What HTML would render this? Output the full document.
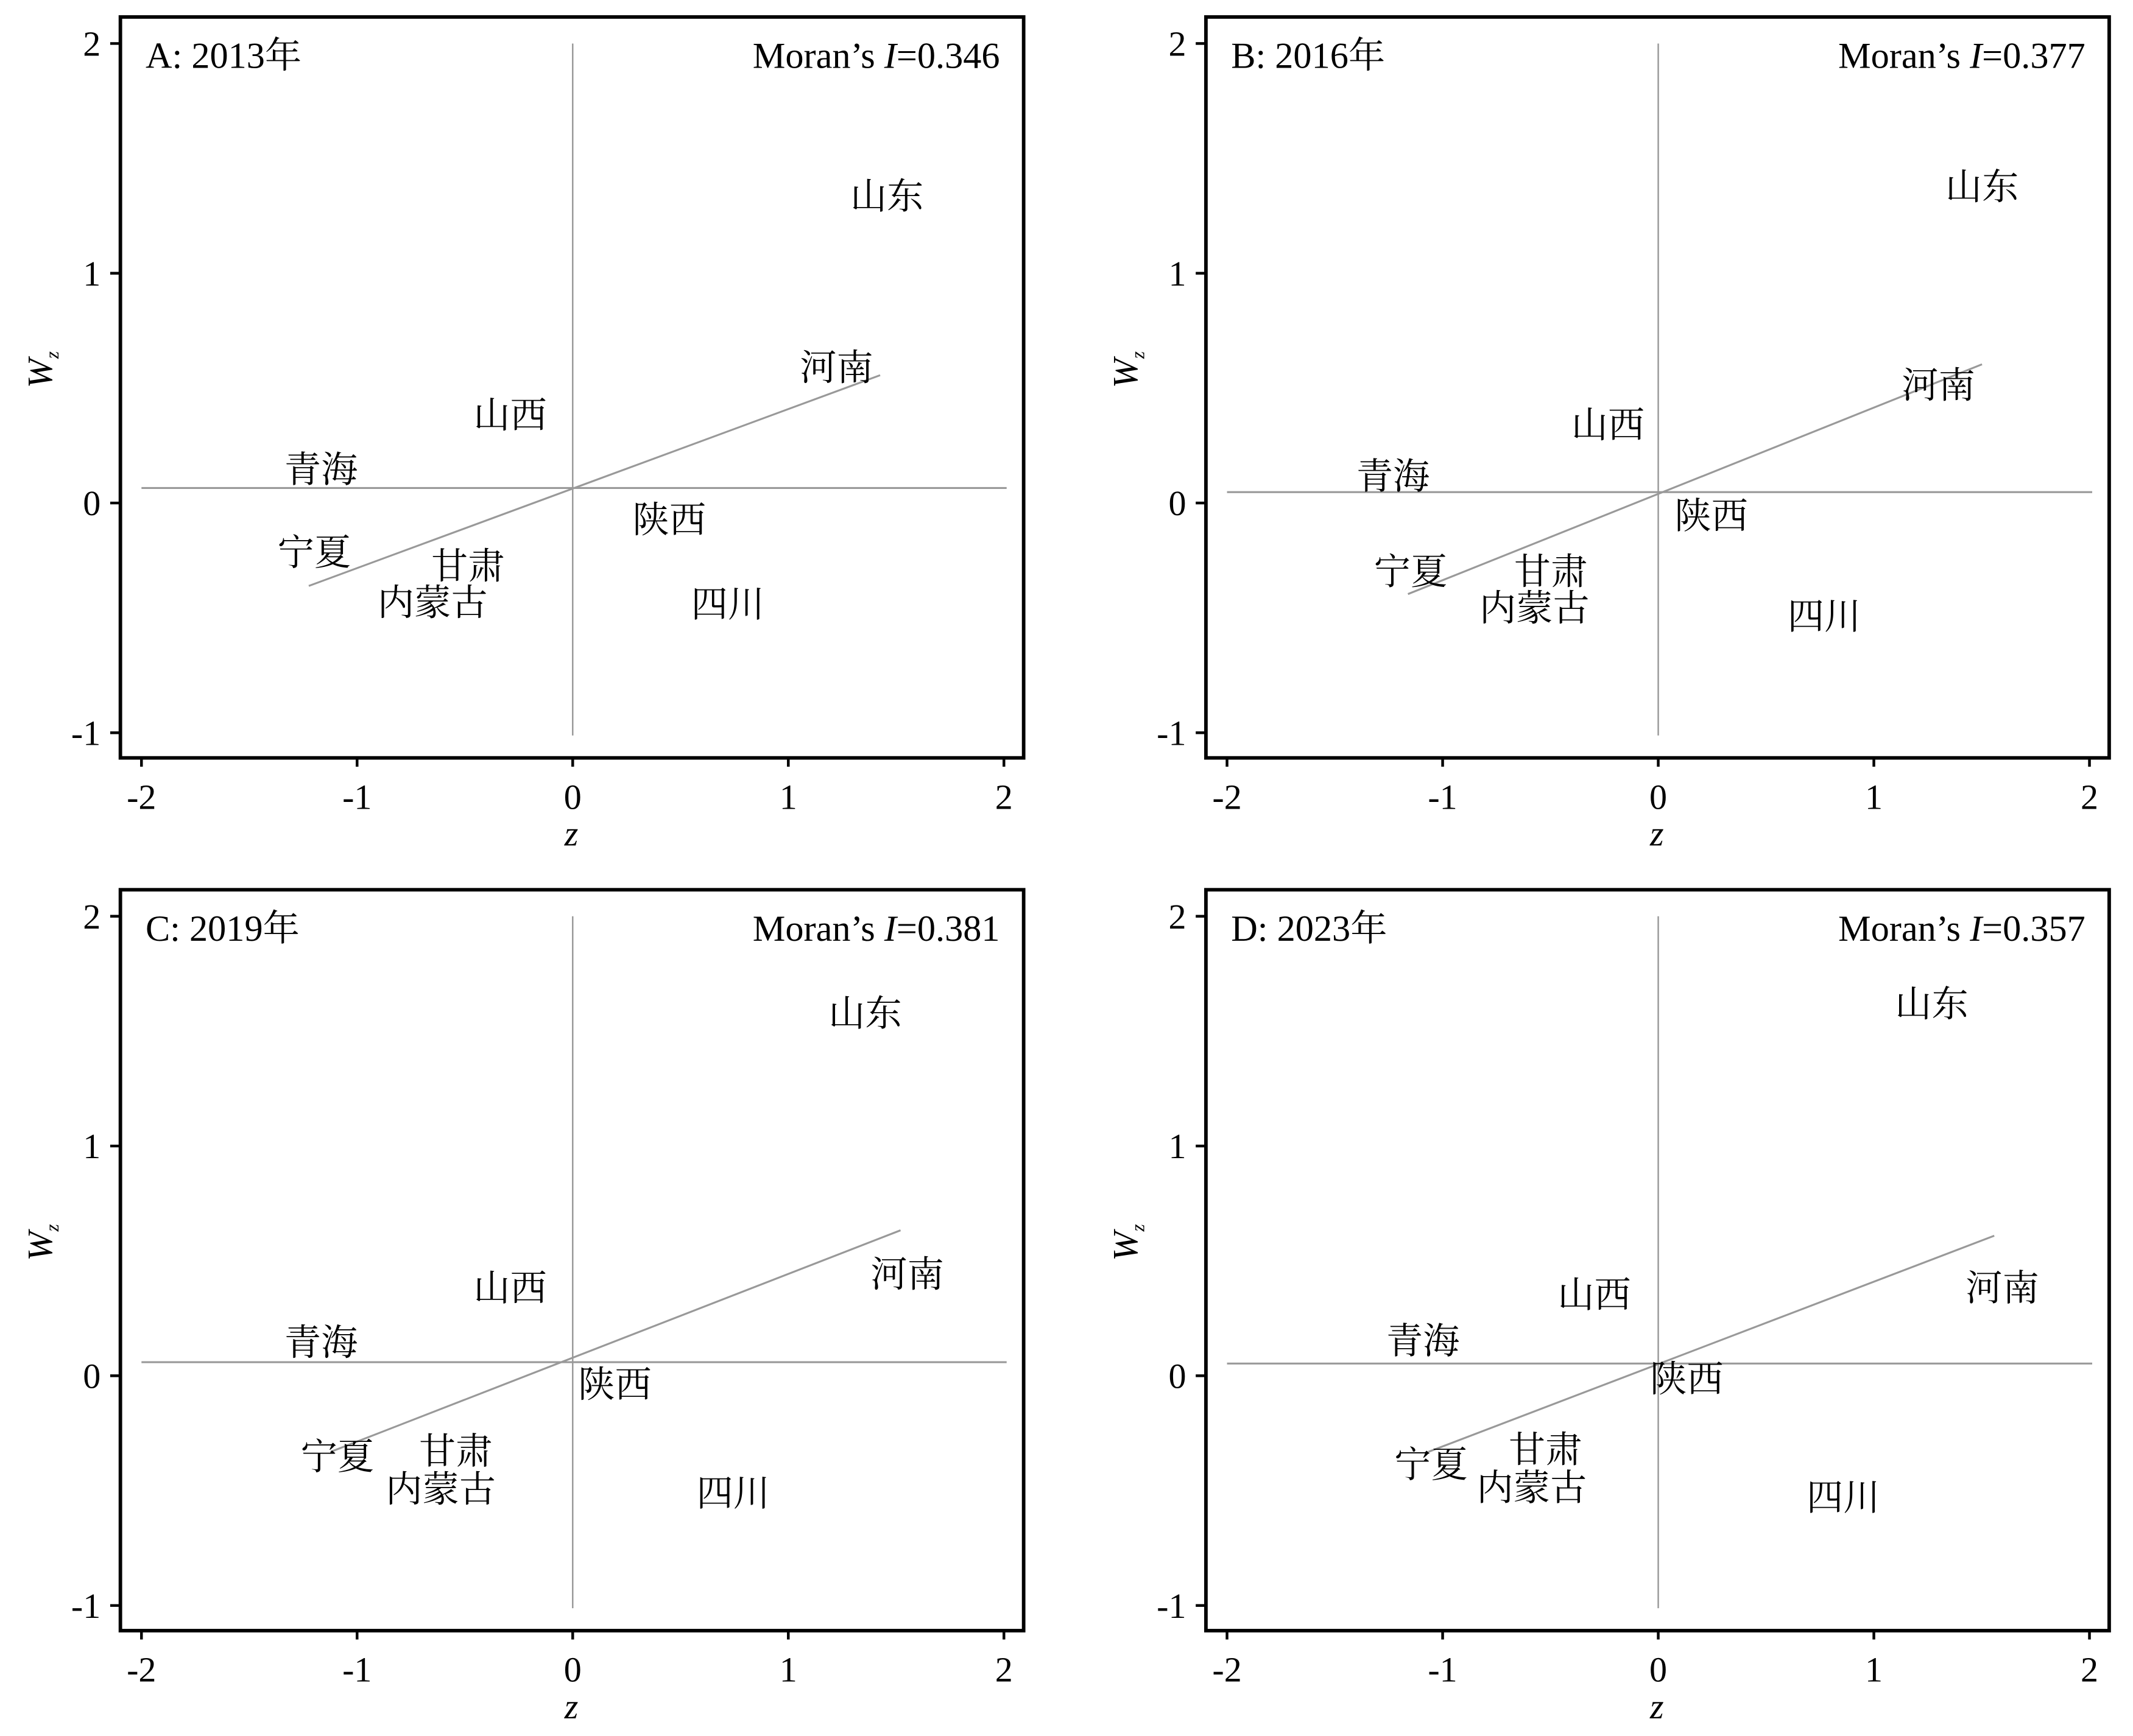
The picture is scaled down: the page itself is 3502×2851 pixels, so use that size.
<!DOCTYPE html>
<html><head><meta charset="utf-8"><style>
html,body{margin:0;padding:0;background:#fff}
svg{display:block}
text{font-family:"Liberation Serif","Noto Serif CJK SC",serif;fill:#000}
.t{font-size:26px}
.h{font-size:27px}
.l{font-size:27px;text-anchor:middle;dominant-baseline:central}
</style></head><body>
<svg width="3502" height="2851" viewBox="0 0 1568 1277" preserveAspectRatio="none" xmlns="http://www.w3.org/2000/svg">
<defs>
<g id="ax">
<line x1="421" y1="32" x2="421" y2="541" stroke="#999" stroke-width="1.1"/>
<rect x="88.5" y="12.5" width="664" height="545" fill="none" stroke="#000" stroke-width="2.6"/>
<g stroke="#000" stroke-width="2">
<line x1="81" y1="32" x2="88" y2="32"/><line x1="81" y1="201" x2="88" y2="201"/><line x1="81" y1="370" x2="88" y2="370"/><line x1="81" y1="539" x2="88" y2="539"/>
<line x1="104" y1="557" x2="104" y2="564"/><line x1="262.5" y1="557" x2="262.5" y2="564"/><line x1="421" y1="557" x2="421" y2="564"/><line x1="579.5" y1="557" x2="579.5" y2="564"/><line x1="738" y1="557" x2="738" y2="564"/>
</g>
<g class="t" text-anchor="end">
<text x="74" y="41">2</text><text x="74" y="210">1</text><text x="74" y="379">0</text><text x="74" y="548">-1</text>
</g>
<g class="t" text-anchor="middle">
<text x="104" y="595">-2</text><text x="262.5" y="595">-1</text><text x="421" y="595">0</text><text x="579.5" y="595">1</text><text x="738" y="595">2</text>
</g>
<text x="420" y="622" class="t" text-anchor="middle" font-style="italic">z</text>
<text transform="translate(38,272) rotate(-90)" class="t" text-anchor="middle" font-style="italic">W<tspan font-size="14" dy="5">z</tspan></text>
</g>
</defs>

<use href="#ax"/>
<use href="#ax" transform="translate(798,0)"/>
<use href="#ax" transform="translate(0,642)"/>
<use href="#ax" transform="translate(798,642)"/>

<g stroke="#999" stroke-width="1.4">
<line x1="104" y1="359" x2="740" y2="359"/>
<line x1="902" y1="362" x2="1538" y2="362"/>
<line x1="104" y1="1002" x2="740" y2="1002"/>
<line x1="902" y1="1003" x2="1538" y2="1003"/>
<line x1="227" y1="431" x2="647" y2="276"/>
<line x1="1035" y1="437" x2="1457" y2="268"/>
<line x1="243" y1="1068" x2="662" y2="905"/>
<line x1="1050" y1="1068" x2="1466" y2="909"/>
</g>

<g class="h">
<text x="107" y="50">A: 2013年</text>
<text x="735" y="50" text-anchor="end">Moran’s <tspan font-style="italic">I</tspan>=0.346</text>
<text x="905" y="50">B: 2016年</text>
<text x="1533" y="50" text-anchor="end">Moran’s <tspan font-style="italic">I</tspan>=0.377</text>
<text x="107" y="692">C: 2019年</text>
<text x="735" y="692" text-anchor="end">Moran’s <tspan font-style="italic">I</tspan>=0.381</text>
<text x="905" y="692">D: 2023年</text>
<text x="1533" y="692" text-anchor="end">Moran’s <tspan font-style="italic">I</tspan>=0.357</text>
</g>

<g class="l">
<text x="652" y="145">山东</text><text x="615" y="271">河南</text><text x="375" y="306">山西</text><text x="236" y="346">青海</text><text x="492" y="383">陕西</text><text x="231" y="407">宁夏</text><text x="344" y="417">甘肃</text><text x="318" y="444">内蒙古</text><text x="535" y="445">四川</text>

<text x="1457" y="138">山东</text><text x="1425" y="284">河南</text><text x="1182" y="313">山西</text><text x="1024" y="351">青海</text><text x="1258" y="380">陕西</text><text x="1037" y="421">宁夏</text><text x="1140" y="421">甘肃</text><text x="1128" y="448">内蒙古</text><text x="1341" y="454">四川</text>

<text x="636" y="746">山东</text><text x="667" y="938">河南</text><text x="375" y="948">山西</text><text x="236" y="988">青海</text><text x="452" y="1019">陕西</text><text x="248" y="1072">宁夏</text><text x="335" y="1068">甘肃</text><text x="324" y="1096">内蒙古</text><text x="539" y="1099">四川</text>

<text x="1420" y="739">山东</text><text x="1472" y="948">河南</text><text x="1172" y="953">山西</text><text x="1046" y="987">青海</text><text x="1240" y="1015">陕西</text><text x="1052" y="1078">宁夏</text><text x="1136" y="1067">甘肃</text><text x="1126" y="1095">内蒙古</text><text x="1355" y="1102">四川</text>
</g>
</svg>
</body></html>
